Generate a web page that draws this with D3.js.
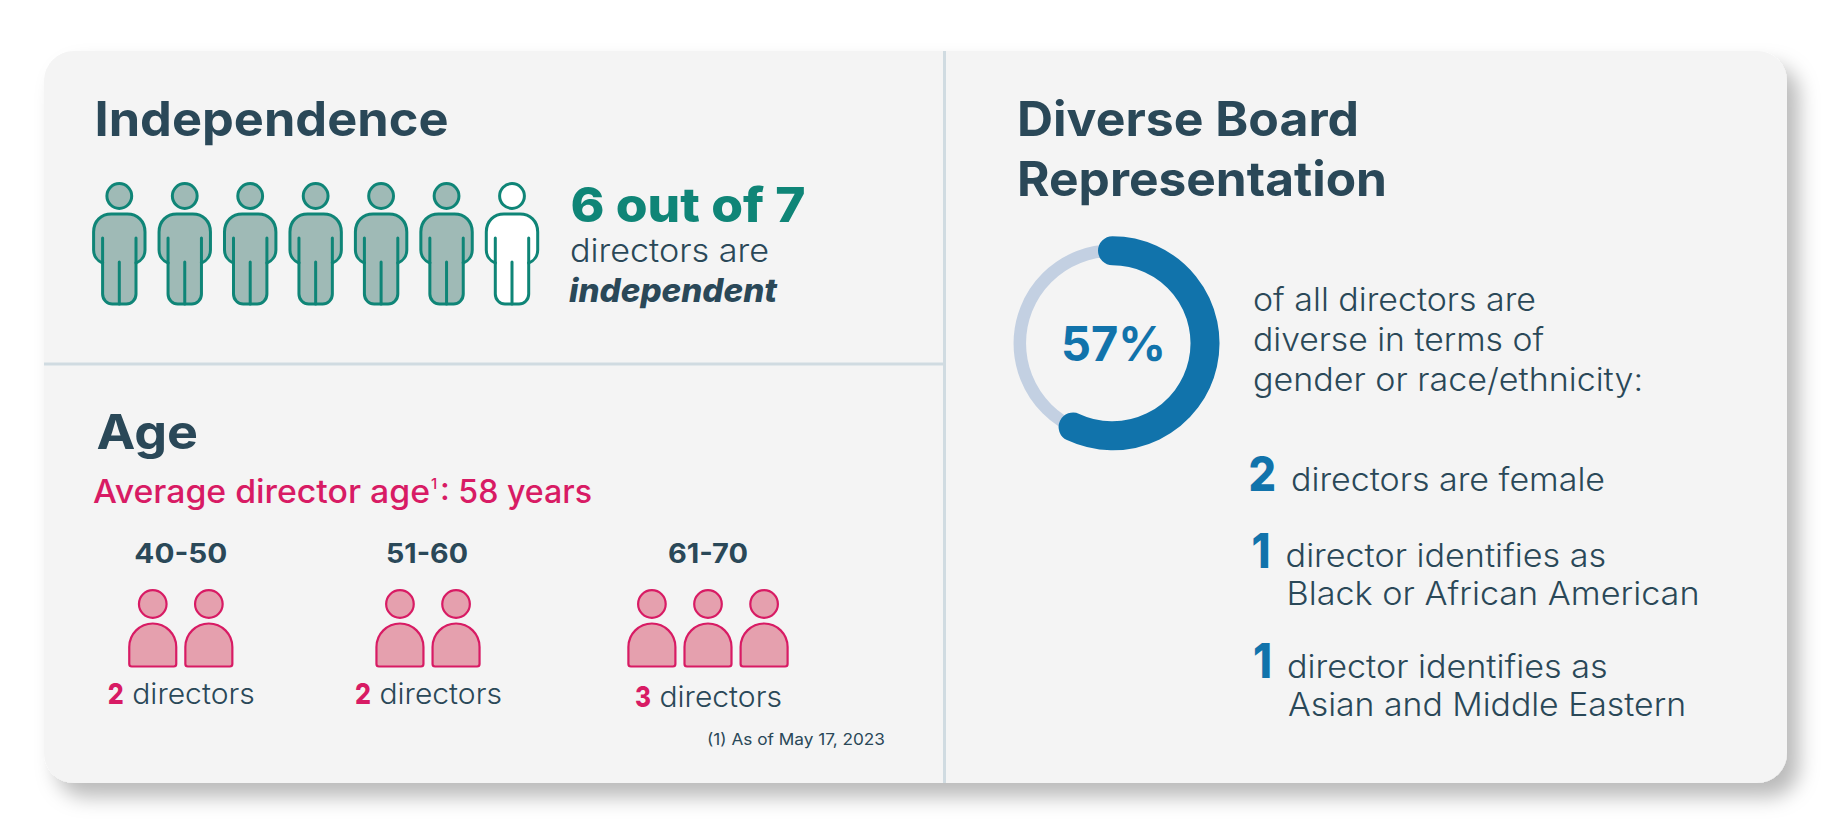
<!DOCTYPE html>
<html>
<head>
<meta charset="utf-8">
<script src="https://cdn.jsdelivr.net/npm/d3@7"></script>
<style>
  body { margin: 0; background: #fff; }
  svg { display: block; }
  text { font-family: Inter, "Open Sans", sans-serif; fill: #2a4858; }
  .title { font-size: 48px; font-weight: 700; }
  .body { font-size: 32px; font-weight: 300; }
  .big { font-size: 48px; font-weight: 800; }
</style>
</head>
<body>
<div id="chart"></div>
<script>
// Values
const totalDirectors = 7;
const independentDirectors = 6;
const diversePercent = 57;
const ageBands = ["40-50", "51-60", "61-70"];
const ageCounts = [2, 2, 3];
const averageAge = 58;
const diverseCounts = [2, 1, 1];
const diverseFirstLines = ["directors are female", "director identifies as", "director identifies as"];
const diverseSecondLines = ["", "Black or African American", "Asian and Middle Eastern"];
const diverseIntro = ["of all directors are", "diverse in terms of", "gender or race/ethnicity:"];

const teal = "#0f8577", tealLight = "#9fbab6";
const pink = "#d81b64", pinkLight = "#e5a0ae";
const blue = "#1173ab", blueLight = "#c3d0e2";
const rule = "#d0dbe1";

const svg = d3.select("#chart").append("svg").attr("width", 1830).attr("height", 828);

// Card with its soft shadow
const shadow = svg.append("defs").append("filter")
  .attr("id", "shadow").attr("x", "-5%").attr("y", "-10%").attr("width", "110%").attr("height", "125%");
shadow.append("feDropShadow")
  .attr("dx", 12).attr("dy", 14).attr("stdDeviation", 10)
  .attr("flood-color", "#000").attr("flood-opacity", 0.27);

svg.append("rect")
  .attr("x", 44).attr("y", 51).attr("width", 1743).attr("height", 732).attr("rx", 30)
  .attr("fill", "#f4f4f4").attr("filter", "url(#shadow)");
svg.append("line").attr("x1", 944.5).attr("x2", 944.5).attr("y1", 51).attr("y2", 783)
  .attr("stroke", rule).attr("stroke-width", 3);
svg.append("line").attr("x1", 44).attr("x2", 944).attr("y1", 364).attr("y2", 364)
  .attr("stroke", rule).attr("stroke-width", 3);

// Text helper: width is forced so the lines end where they do in the picture
function put(parent, str, x, y, width, cls, color) {
  const t = parent.append("text").attr("x", x).attr("y", y).attr("class", cls).text(str);
  if (width) t.attr("textLength", width).attr("lengthAdjust", "spacingAndGlyphs");
  if (color) t.style("fill", color);
  return t;
}

// Left top panel
put(svg, "Independence", 94.5, 136, 354, "title");
put(svg, `${independentDirectors} out of ${totalDirectors}`, 570.5, 221.5, 235, "big", teal);
put(svg, "directors are", 570, 261.5, 199, "body");
put(svg, "independent", 569, 301.5, 208, "body").style("font-weight", 800).style("font-style", "italic");

// Standing figure, drawn around the head centre
function standingBody() {
  const p = d3.path();
  p.moveTo(-16.7, 67);
  p.bezierCurveTo(-22, 65, -25.7, 60, -25.7, 54);
  p.lineTo(-25.7, 36);
  p.bezierCurveTo(-25.7, 25, -18, 18, -8, 18);
  p.lineTo(8, 18);
  p.bezierCurveTo(18, 18, 25.7, 25, 25.7, 36);
  p.lineTo(25.7, 54);
  p.bezierCurveTo(25.7, 60, 22, 65, 16.7, 67);
  p.lineTo(16.7, 98);
  p.bezierCurveTo(16.7, 104, 12, 108, 7, 108);
  p.lineTo(-7, 108);
  p.bezierCurveTo(-12, 108, -16.7, 104, -16.7, 98);
  p.closePath();
  return p.toString();
}
const standingInner = "M-16.7,42V67M16.7,42V67M0,66V108";

const xPerson = d3.scaleLinear().domain([0, totalDirectors - 1]).range([119.3, 512]);
const people = svg.append("g").selectAll("g")
  .data(d3.range(totalDirectors))
  .enter().append("g")
  .attr("transform", (d) => `translate(${xPerson(d)},196)`)
  .attr("fill", (d) => (d < independentDirectors ? tealLight : "#fff"))
  .attr("stroke", teal).attr("stroke-width", 3);
people.append("circle").attr("r", 12.4);
people.append("path").attr("d", standingBody());
people.append("path").attr("d", standingInner).attr("fill", "none").attr("stroke-linecap", "round");

// Left bottom panel
put(svg, "Age", 96.5, 449, 101.5, "title");
const avg = svg.append("text").attr("y", 503.3)
  .style("font-size", "32px").style("font-weight", 500).style("fill", pink);
avg.append("tspan").attr("x", 93).attr("textLength", 337).attr("lengthAdjust", "spacingAndGlyphs")
  .text("Average director age");
avg.append("tspan").attr("x", 431).attr("dy", -14).style("font-size", "15px").text("1");
avg.append("tspan").attr("x", 440).attr("dy", 14).attr("textLength", 152).attr("lengthAdjust", "spacingAndGlyphs")
  .text(`: ${averageAge} years`);

const bandCentre = d3.scaleOrdinal().domain(ageBands).range([180.8, 428, 708]);
const bandLabelX = d3.scaleOrdinal().domain(ageBands).range([0, -1, 0]);
const bandLabelY = d3.scaleOrdinal().domain(ageBands).range([704.3, 704.3, 707.3]);
const bandWidth = d3.scaleOrdinal().domain(ageBands).range([93, 82, 80]);

// Bust figure, drawn around the head centre
function bustBody() {
  const p = d3.path();
  p.moveTo(-23.5, 60);
  p.lineTo(-23.5, 43);
  p.arc(0, 43, 23.5, Math.PI, 0);
  p.lineTo(23.5, 60);
  p.quadraticCurveTo(23.5, 62.5, 21, 62.5);
  p.lineTo(-21, 62.5);
  p.quadraticCurveTo(-23.5, 62.5, -23.5, 60);
  p.closePath();
  return p.toString();
}

const bands = svg.append("g").selectAll("g")
  .data(ageBands.map((band, i) => ({ band, count: ageCounts[i] })))
  .enter().append("g")
  .attr("transform", (d) => `translate(${bandCentre(d.band)},0)`);

bands.append("text")
  .attr("x", (d) => bandLabelX(d.band))
  .attr("y", 563).attr("text-anchor", "middle")
  .attr("textLength", (d) => bandWidth(d.band)).attr("lengthAdjust", "spacingAndGlyphs")
  .style("font-size", "27px").style("font-weight", 700)
  .text((d) => d.band);

const busts = bands.selectAll(".bust")
  .data((d) => d3.range(d.count).map((i) => (i - (d.count - 1) / 2) * 56.1))
  .enter().append("g")
  .attr("class", "bust")
  .attr("transform", (d) => `translate(${d},604)`)
  .attr("fill", pinkLight).attr("stroke", pink).attr("stroke-width", 2.2);
busts.append("circle").attr("r", 13.8);
busts.append("path").attr("d", bustBody());

const bandNote = bands.append("text")
  .attr("y", (d) => bandLabelY(d.band))
  .style("font-size", "29px");
bandNote.append("tspan").attr("x", -73).attr("textLength", 16).attr("lengthAdjust", "spacingAndGlyphs")
  .style("font-weight", 800).style("fill", pink).text((d) => d.count);
bandNote.append("tspan").attr("x", -57).attr("textLength", 131).attr("lengthAdjust", "spacingAndGlyphs")
  .style("font-weight", 300).text(" directors");

put(svg, "(1) As of May 17, 2023", 707, 745, 178, "").style("font-size", "16px").style("font-weight", 400);

// Right panel
put(svg, "Diverse Board", 1017, 136, 342, "title");
put(svg, "Representation", 1017, 196, 370, "title");

const ringCx = 1112.5, ringCy = 343.3;
const angle = d3.scaleLinear().domain([0, 100]).range([-Math.PI / 2, 1.5 * Math.PI]);
const ring = svg.append("g").attr("transform", `translate(${ringCx},${ringCy})`);
ring.append("circle").attr("r", 92.7).attr("fill", "none").attr("stroke", blueLight).attr("stroke-width", 12.5);
const ringPath = d3.path();
ringPath.arc(0, 0, 92.5, angle(0), angle(diversePercent));
ring.append("path")
  .attr("d", ringPath.toString())
  .attr("fill", "none").attr("stroke", blue).attr("stroke-width", 29).attr("stroke-linecap", "round");
put(svg, `${diversePercent}%`, 1061, 361, 105, "title", blue);

const introWidths = [283, 291, 390];
diverseIntro.forEach((line, i) => put(svg, line, 1253, 310.7 + i * 40, introWidths[i], "body"));

// Counts list on the right
const countX = [1248.5, 1251.5, 1253], countW = [27.5, 19, 19];
const countY = [491, 567.7, 678];
const firstX = [1291, 1285.6, 1287], firstW = [314, 320.5, 320.5];
const secondX = [0, 1286.5, 1288], secondW = [0, 413, 398], secondY = [0, 604.7, 715.7];
diverseCounts.forEach((n, i) => {
  put(svg, n, countX[i], countY[i], countW[i], "big", blue);
  put(svg, diverseFirstLines[i], firstX[i], countY[i] - 0.4, firstW[i], "body");
  if (diverseSecondLines[i]) put(svg, diverseSecondLines[i], secondX[i], secondY[i], secondW[i], "body");
});
</script>
</body>
</html>
